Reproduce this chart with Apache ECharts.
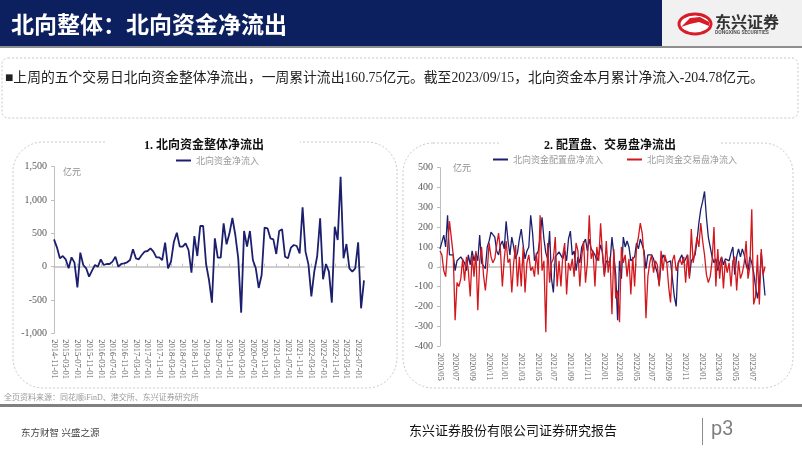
<!DOCTYPE html>
<html><head><meta charset="utf-8">
<script src="https://cdn.jsdelivr.net/npm/echarts@6/dist/echarts.min.js"></script>
<style>html,body{margin:0;padding:0;background:#fff}#c{width:802px;height:451px}</style>
</head><body><div id="c"></div><script>
// ---------- Chart 1: monthly northbound net inflow (亿元), 2014-11 .. 2023-09
const c1Start = [2014, 11];
const c1Count = 107;
const c1Values = [
 410, 290, 125, 160, 110, -25, 140, 60, -310, 210,
 25, -25, -150, -60, 25, 0, 110, 25, 40, 40,
 75, 150, 0, 40, 50, 65, 100, 260, 125, 110,
 175, 225, 235, 275, 225, 140, 140, 100, 360, -25,
 75, 375, 510, 300, 300, 350, 250, -90, 460, 160,
 610, 610, 40, -200, -540, 425, 135, 135, 650, 335,
 500, 730, 475, 125, -690, 535, 300, 535, 100, -25,
 -320, -125, 585, 575, 425, 410, 190, 535, 560, 150,
 125, 285, 325, 310, 200, 890, 225, 35, -445, -75,
 160, 725, -190, 40, -75, -540, 600, 400, 1350, 125,
 340, -25, -75, -25, 365, -625, -205
];
const c1Ticks = [-1000, 1500, 500];
// ---------- Chart 2: weekly, 2020-05-08 .. 2023-08-25
const c2Start = '2020-05-08';
const c2Count = 173;
const c2Alloc = [
 90, 80, 160, 100, 260, 60, 70, 60, -20, 30,
 40, 50, 40, 20, -20, 60, 10, 80, 30, 70,
 30, 160, 20, 30, -10, 100, 130, 175, 175, 150,
 80, 60, 110, 130, 90, 230, 130, 60, 150, 100,
 40, 70, 140, 190, 110, 40, 80, 100, 260, 170,
 30, 60, 80, 150, 250, 140, 70, 40, 180, -60,
 -130, 50, 60, 75, 70, 40, 80, 30, 140,
 180, 60, 80, -20, 50, 20, 100, 100, 140, 80,
 140, 90, 100, 60, 30, 60, 110, 70, -40, 30,
 40, 20, 150, 60, -40, -270, 30, -60, 150, 100,
 130, 100, 30, 20, 50, 120, 90, 140, 140, 80,
 -10, 60, 60, 60, 40, 0, -30, -90, 20, 60,
 40, 20, 30, 30, -60, -150, -200, 20, 40,
 60, 20, 40, 60, -50, 30, 20, 60, 130, 220,
 290, 330, 380, 250, 150, 150, 50, 20, 40, -20,
 20, 50, 10, 40, 30, 30, 70, 100, -40,
 50, 90, 50, 90, 60, 10, -20, 50, 20, -30,
 -100, -160, -100, 70, -40, -145
];
const c2Trade = [
 80, 60, -20, -50, -40, 230, 230, 60, -270, -80,
 -100, -60, 40, -70, 50, -20, -150, 60, -50, 80,
 -220, 30, 100, -40, -120, -20, 120, 50, 20, 40,
 110, 170, 80, -100, 40, 130, 20, 40, -130, 20,
 110, -100, 50, -100, 100, -130, 20, 60, -20, 0,
 -50, 70, -40, 260, -20, 30, -330, 120, -80, 20,
 40, 150, -100, 30, -100, 60, 120, -140, 20,
 -20, 40, -50, 120, 80, -100, 50, 130, -80, 20,
 260, 40, 80, -100, 100, 30, 220, 60, -50, 130,
 -30, 50, -240, 90, -160, -120, -280, 100, 20, 60,
 -50, 40, -140, 50, -100, 100, 150, 220, 170, 50,
 -260, -50, 20, 60, -30, 30, 10, -100, 80, -20,
 60, 20, -100, -180, 30, 60, -20, -30, 40,
 10, 50, -80, 60, -60, 190, 20, 80, 150, 100,
 220, 130, 60, -40, -80, -50, 30, 200, -100, 90,
 -60, 50, -110, 30, -30, 20, -100, 30, 50,
 -120, 30, -60, -30, 20, 130, -60, 0, 290, -190,
 -150, 60, -190, 90, -40, 0
];
const c2Ticks = [-400, 500, 100];

// ---------- categories
const months1 = [];
{ let y = c1Start[0], m = c1Start[1];
  for (let i = 0; i < c1Count; i++) {
    months1.push(y + '-' + String(m).padStart(2,'0') + '-01');
    m++; if (m > 12) { m = 1; y++; }
  } }
const weeks2 = [];
{ const d0 = new Date(c2Start + 'T00:00:00Z');
  for (let i = 0; i < c2Count; i++) {
    const d = new Date(d0.getTime() + i * 7 * 86400000);
    weeks2.push(d.toISOString().slice(0,10));
  } }
function showW(idx) {
  if (idx === 0) return true;
  const m = +weeks2[idx].slice(5,7), pm = +weeks2[idx-1].slice(5,7);
  return m !== pm && m % 2 === 1;
}

const NAVY = '#1b1f6e', RED = '#d3171d', AX = '#bfbfbf', TXT = '#595959';
const SERIF = "'Liberation Serif','Noto Sans CJK SC'";
const CJK = "'Noto Sans CJK SC'";
const fmt = v => v.toLocaleString('en-US');

const chart = echarts.init(document.getElementById('c'), null, {renderer: 'canvas'});
const g1 = {left: 54, top: 166.7, width: 310, height: 166.6};
const g2 = {left: 440, top: 167.7, width: 325, height: 178.3};

chart.setOption({
  animation: false,
  backgroundColor: '#fff',
  grid: [
    Object.assign({containLabel: false}, g1),
    Object.assign({containLabel: false}, g2)
  ],
  legend: [
    {data: ['北向资金净流入'], left: 171, top: 151, itemWidth: 15, itemHeight: 2, icon: 'rect',
     textStyle: {color: '#999', fontSize: 9, fontFamily: CJK}, itemGap: 4},
    {data: ['北向资金配置盘净流入', '北向资金交易盘净流入'], left: 488, top: 150, itemWidth: 15, itemHeight: 2, icon: 'rect',
     itemGap: 24, textStyle: {color: '#999', fontSize: 9, fontFamily: CJK}}
  ],
  xAxis: [
    {gridIndex: 0, type: 'category', data: months1, boundaryGap: false, position: 'bottom',
     axisLine: {show: false, onZero: false}, axisTick: {show: false},
     axisLabel: {interval: 3, rotate: -90, fontSize: 8.5, color: TXT, fontFamily: SERIF, margin: 6}},
    {gridIndex: 0, type: 'category', data: months1, boundaryGap: false, position: 'top',
     axisLine: {show: true, onZero: true, lineStyle: {color: AX, width: 1.5}},
     axisTick: {show: true, interval: 3, length: 3, lineStyle: {color: AX}}, axisLabel: {show: false}},
    {gridIndex: 1, type: 'category', data: weeks2, boundaryGap: false, position: 'bottom',
     axisLine: {show: false, onZero: false}, axisTick: {show: false},
     axisLabel: {interval: showW, rotate: -90, fontSize: 8.5, color: TXT, fontFamily: SERIF, margin: 7,
                 formatter: v => v.slice(0,4) + '/' + v.slice(5,7)}},
    {gridIndex: 1, type: 'category', data: weeks2, boundaryGap: false, position: 'top',
     axisLine: {show: true, onZero: true, lineStyle: {color: AX, width: 1.5}},
     axisTick: {show: true, interval: showW, length: 3, lineStyle: {color: AX}}, axisLabel: {show: false}}
  ],
  yAxis: [
    {gridIndex: 0, type: 'value', min: c1Ticks[0], max: c1Ticks[1], interval: c1Ticks[2],
     axisLine: {show: true, lineStyle: {color: AX}}, axisTick: {show: true, length: 3, lineStyle: {color: AX}},
     splitLine: {show: false},
     axisLabel: {formatter: fmt, fontSize: 10, color: TXT, fontFamily: SERIF, margin: 7}},
    {gridIndex: 1, type: 'value', min: c2Ticks[0], max: c2Ticks[1], interval: c2Ticks[2],
     axisLine: {show: true, lineStyle: {color: AX}}, axisTick: {show: true, length: 3, lineStyle: {color: AX}},
     splitLine: {show: false},
     axisLabel: {formatter: fmt, fontSize: 10, color: TXT, fontFamily: SERIF, margin: 7}}
  ],
  series: [
    {name: '北向资金净流入', type: 'line', xAxisIndex: 0, yAxisIndex: 0, data: c1Values,
     symbol: 'none', lineStyle: {color: NAVY, width: 1.8}, itemStyle: {color: NAVY}},
    {name: '北向资金配置盘净流入', type: 'line', xAxisIndex: 2, yAxisIndex: 1, data: c2Alloc,
     symbol: 'none', lineStyle: {color: NAVY, width: 1.3}, itemStyle: {color: NAVY}},
    {name: '北向资金交易盘净流入', type: 'line', xAxisIndex: 2, yAxisIndex: 1, data: c2Trade,
     symbol: 'none', lineStyle: {color: RED, width: 1.3}, itemStyle: {color: RED}, z: 3}
  ],
  graphic: [
    {type: 'rect', shape: {x: 0, y: 0, width: 662, height: 46}, style: {fill: '#0c1f5e'}, z: -1},
    {type: 'rect', shape: {x: 662, y: 0, width: 140, height: 46}, style: {fill: '#f1f1f1'}, z: -1},
    {type: 'rect', shape: {x: 0, y: 46, width: 802, height: 2}, style: {fill: '#8f8f8f'}, z: -1},
    {type: 'text', x: 11, y: 24, style: {text: '北向整体：北向资金净流出', fill: '#fff', font: 'bold 23px ' + CJK, textVerticalAlign: 'middle'}},
    {type: 'ellipse', shape: {cx: 695, cy: 24, rx: 16, ry: 10}, style: {fill: '#fff', stroke: '#d71e28', lineWidth: 3}},
    {type: 'polygon', shape: {points: [[681,27],[690,18],[700,17],[709,22],[709,26],[699,22],[690,24]]}, style: {fill: '#d71e28'}},
    {type: 'text', x: 715, y: 22, style: {text: '东兴证券', fill: '#333', font: 'bold 16px ' + CJK, textVerticalAlign: 'middle'}},
    {type: 'text', x: 715, y: 33, style: {text: 'DONGXING SECURITIES', fill: '#555', font: 'bold 5px Roboto', textVerticalAlign: 'middle'}},
    {type: 'rect', shape: {x: 2, y: 58, width: 796, height: 60, r: 6}, style: {fill: 'none', stroke: '#c8c8c8', lineDash: [2, 2], lineWidth: 1}},
    {type: 'text', x: 5, y: 78, style: {text: '■上周的五个交易日北向资金整体净流出，一周累计流出160.75亿元。截至2023/09/15，北向资金本月累计净流入-204.78亿元。',
      fill: '#222', font: '13.8px ' + SERIF, textVerticalAlign: 'middle'}},
    {type: 'rect', shape: {x: 13, y: 142, width: 384, height: 246, r: 30}, style: {fill: 'none', stroke: '#c8c8c8', lineDash: [2, 2], lineWidth: 1}, z: -1},
    {type: 'rect', shape: {x: 403, y: 143, width: 390, height: 245, r: 30}, style: {fill: 'none', stroke: '#c8c8c8', lineDash: [2, 2], lineWidth: 1}, z: -1},
    {type: 'rect', shape: {x: 105, y: 137, width: 195, height: 12}, style: {fill: '#fff'}, z: 0},
    {type: 'rect', shape: {x: 500, y: 137, width: 220, height: 12}, style: {fill: '#fff'}, z: 0},
    {type: 'text', x: 204, y: 146, style: {text: '1. 北向资金整体净流出', fill: '#111', font: 'bold 12px ' + SERIF, textAlign: 'center', textVerticalAlign: 'middle'}, z: 5},
    {type: 'text', x: 610, y: 146, style: {text: '2. 配置盘、交易盘净流出', fill: '#111', font: 'bold 12px ' + SERIF, textAlign: 'center', textVerticalAlign: 'middle'}, z: 5},
    {type: 'text', x: 63, y: 172, style: {text: '亿元', fill: '#8c8c8c', font: '9px ' + CJK, textVerticalAlign: 'middle'}},
    {type: 'text', x: 453, y: 168, style: {text: '亿元', fill: '#8c8c8c', font: '9px ' + CJK, textVerticalAlign: 'middle'}},
    {type: 'text', x: 4, y: 398, style: {text: '全页资料来源：同花顺iFinD、港交所、东兴证券研究所', fill: '#9a9a9a', font: '8px ' + SERIF, textVerticalAlign: 'middle'}},
    {type: 'rect', shape: {x: 0, y: 404, width: 802, height: 3}, style: {fill: '#808080'}},
    {type: 'text', x: 21, y: 433, style: {text: '东方财智 兴盛之源', fill: '#444', font: '9.5px ' + SERIF, textVerticalAlign: 'middle'}},
    {type: 'text', x: 513, y: 432, style: {text: '东兴证券股份有限公司证券研究报告', fill: '#111', font: '13px ' + SERIF, textAlign: 'center', textVerticalAlign: 'middle'}},
    {type: 'rect', shape: {x: 702, y: 418, width: 1, height: 27}, style: {fill: '#8c8c8c'}},
    {type: 'text', x: 711, y: 430, style: {text: 'p3', fill: '#7f7f7f', font: '20px Roboto', textVerticalAlign: 'middle'}}
  ]
});
</script></body></html>
